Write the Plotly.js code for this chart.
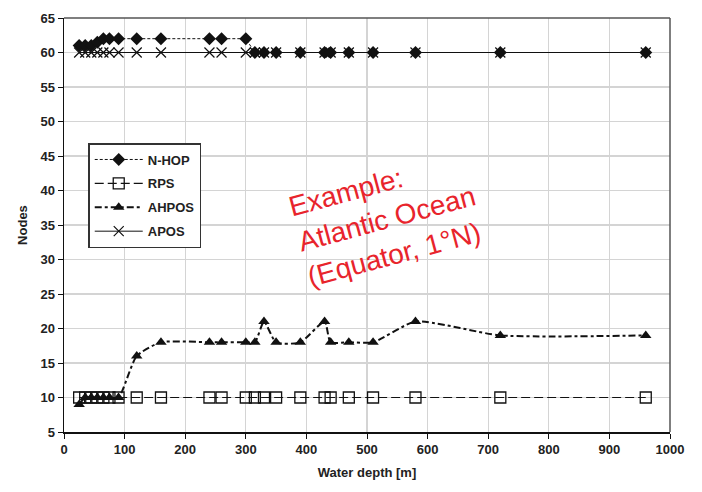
<!DOCTYPE html>
<html>
<head>
<meta charset="utf-8">
<script src="https://cdn.plot.ly/plotly-3.0.1.min.js"></script>
<style>html,body{margin:0;padding:0;background:#fff;}#chart{width:702px;height:492px;}</style>
</head>
<body>
<div id="chart"></div>
<script>
const depth = [25, 35, 45, 55, 65, 75, 90, 120, 160, 240, 260, 300, 315, 330, 350, 390, 430, 440, 470, 510, 580, 720, 960];
const nhop  = [61, 61, 61, 61.5, 62, 62, 62, 62, 62, 62, 62, 62, 60, 60, 60, 60, 60, 60, 60, 60, 60, 60, 60];
const rps   = [10, 10, 10, 10, 10, 10, 10, 10, 10, 10, 10, 10, 10, 10, 10, 10, 10, 10, 10, 10, 10, 10, 10];
const ahpos = [9, 10, 10, 10, 10, 10, 10, 16, 18, 18, 18, 18, 18, 21, 18, 18, 21, 18, 18, 18, 21, 19, 19];
const apos  = [60, 60, 60, 60, 60, 60, 60, 60, 60, 60, 60, 60, 60, 60, 60, 60, 60, 60, 60, 60, 60, 60, 60];
const seriesNames = ["N-HOP", "RPS", "AHPOS", "APOS"];
const xTicks = [0, 100, 200, 300, 400, 500, 600, 700, 800, 900, 1000];
const yTicks = [5, 10, 15, 20, 25, 30, 35, 40, 45, 50, 55, 60, 65];

const black = "#111";
const traces = [
  {x: depth, y: apos, name: seriesNames[3], mode: "lines+markers", legendgroup: "d", legendrank: 4,
   line: {color: black, width: 1}, marker: {symbol: "x-thin-open", size: 10, color: black, line: {width: 1.2, color: black}}},
  {x: depth, y: nhop, name: seriesNames[0], mode: "lines+markers", legendgroup: "a", legendrank: 1,
   line: {color: black, width: 1, dash: "3px,2px"}, marker: {symbol: "diamond", size: 10, color: black}},
  {x: depth, y: rps, name: seriesNames[1], mode: "lines+markers", legendgroup: "b", legendrank: 2,
   line: {color: black, width: 1.2, dash: "9px,4px"}, marker: {symbol: "square-open", size: 11, color: black, line: {width: 1.3, color: black}}},
  {x: depth, y: ahpos, name: seriesNames[2], mode: "lines+markers", legendgroup: "c", legendrank: 3,
   line: {color: black, width: 2, dash: "7px,3px,3px,3px", shape: "spline", smoothing: 0.6}, marker: {symbol: "triangle-up", size: 10, color: black}}
];

const layout = {
  width: 702, height: 492,
  margin: {l: 64, r: 32, t: 18, b: 60},
  paper_bgcolor: "#fff", plot_bgcolor: "#fff",
  font: {family: "Liberation Sans, Arial, sans-serif", color: "#222", size: 12},
  showlegend: true,
  legend: {x: 0.04, y: 0.698, xanchor: "left", yanchor: "top", bgcolor: "#fff",
           bordercolor: "#333", borderwidth: 1.5, itemwidth: 48, tracegroupgap: 4,
           font: {size: 13, weight: "bold", color: "#222"}},
  xaxis: {range: [0, 1000], tickvals: xTicks, ticktext: xTicks.map(String),
          showgrid: true, gridcolor: "#d4d4d4", gridwidth: 1.2, zeroline: false,
          showline: true, linecolor: "#111", linewidth: 1.5, mirror: false,
          ticks: "outside", ticklen: 5, tickcolor: "#111",
          tickfont: {size: 13, weight: "bold"},
          title: {text: "Water depth [m]", font: {size: 13, weight: "bold"}, standoff: 12}},
  yaxis: {range: [5, 65], tickvals: yTicks, ticktext: yTicks.map(String),
          showgrid: true, gridcolor: "#d4d4d4", gridwidth: 1.2, zeroline: false,
          showline: true, linecolor: "#111", linewidth: 1.5,
          ticks: "outside", ticklen: 5, tickcolor: "#111",
          tickfont: {size: 13, weight: "bold"},
          title: {text: "Nodes", font: {size: 13, weight: "bold"}, standoff: 10}},
  shapes: [
    {type: "line", xref: "paper", yref: "paper", x0: 0, x1: 1, y0: 1, y1: 1, line: {color: "#555", width: 1.5}},
    {type: "line", xref: "paper", yref: "paper", x0: 1, x1: 1, y0: 0, y1: 1, line: {color: "#555", width: 1.5}}
  ],
  annotations: [
    {x: 533, y: 35.8, xref: "x", yref: "y", showarrow: false, textangle: -15,
     text: "Example:<br>Atlantic Ocean<br>(Equator, 1°N)", align: "left",
     font: {size: 28, color: "#e8242c", family: "Liberation Sans, Arial, sans-serif"}}
  ]
};
Plotly.newPlot("chart", traces, layout, {displayModeBar: false, staticPlot: true});
</script>
</body>
</html>
